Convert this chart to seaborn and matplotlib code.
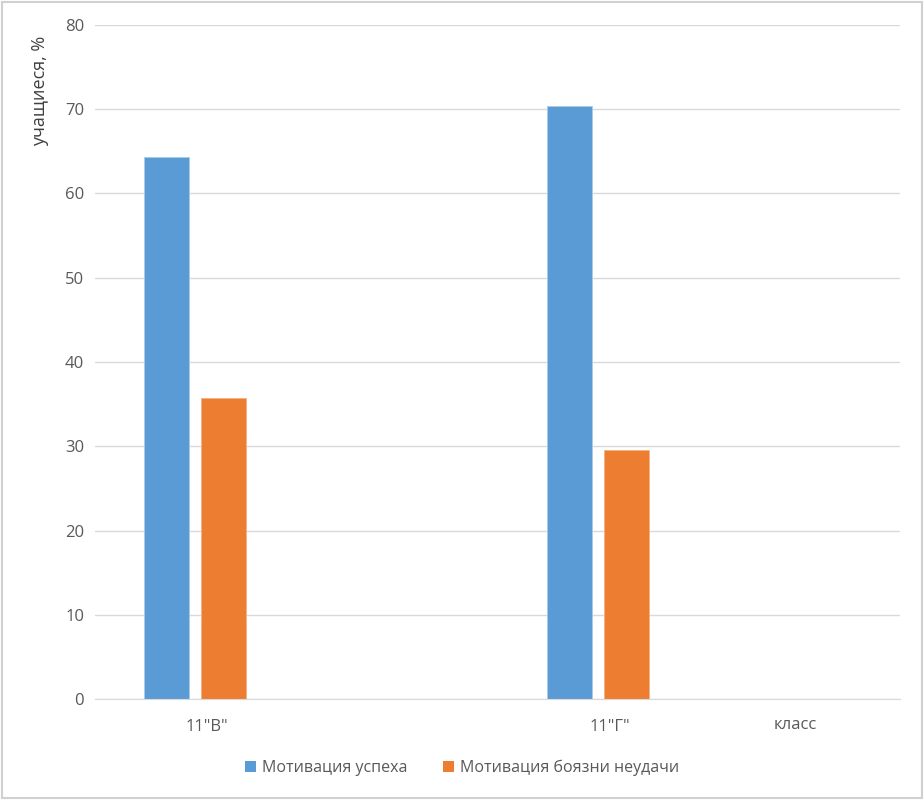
import matplotlib
matplotlib.use('Agg')
import matplotlib.pyplot as plt
from matplotlib.patches import Rectangle
import seaborn as sns
import pandas as pd

sns.set_style('white')
plt.rcParams['font.family'] = ['Open Sans', 'DejaVu Sans']

# data
classes = ['11"В"', '11"Г"']
series = ['Мотивация успеха', 'Мотивация боязни неудачи']
success = [64.3, 70.4]
fear = [35.7, 29.6]
colors = ['#5B9BD5', '#ED7D31']
grey = '#595959'

df = pd.DataFrame({
    'class': classes * 2,
    'series': [series[0]] * 2 + [series[1]] * 2,
    'value': success + fear,
})

fig = plt.figure(figsize=(9.24, 8), dpi=100)
ax = fig.add_axes([0.103, 0.126, 0.871, 0.843])

sns.barplot(data=df, x='class', y='value', hue='series', hue_order=series,
            palette=colors, width=0.283, gap=0.21, ax=ax, legend=True,
            saturation=1, edgecolor='#a9cbea', linewidth=0.6)

ax.set_xlim(-0.248, 1.749)
ax.set_ylim(0, 80)
ax.set_yticks(range(0, 81, 10))
ax.set_xticks([0.03, 1.03], classes)
ax.yaxis.grid(True, color='#d9d9d9', linewidth=1)
ax.set_axisbelow(True)
ax.tick_params(axis='both', length=0, labelsize=12, colors=grey, pad=8)
ax.tick_params(axis='x', pad=14)
ax.set_xlabel('')
ax.set_ylabel('')
for s in ['top', 'right', 'left']:
    ax.spines[s].set_visible(False)
ax.spines['bottom'].set_color('#d9d9d9')

# orange bars get an orange-tinted edge
for p in ax.patches[2:4]:
    p.set_edgecolor('#f4b183')

# axis titles
ax.text(1.489, -0.0265, 'класс', transform=ax.get_xaxis_transform(),
        ha='center', va='top', fontsize=12, color=grey)
fig.text(40 / 924, 1 - 91 / 800, 'учащиеся, %', rotation=90, ha='center',
         va='center', fontsize=13, color='#404040')

leg = ax.legend(loc='center', frameon=False,
                ncol=2, fontsize=11.5, handlelength=0.7, handleheight=0.7,
                handletextpad=0.4, columnspacing=2.2)
leg.set_bbox_to_anchor((0.5, 1 - 768 / 800), transform=fig.transFigure)
for t in leg.get_texts():
    t.set_color(grey)
for h in leg.legend_handles:
    h.set_edgecolor('none')

# chart frame
fig.patches.append(Rectangle((0.002, 0.002), 0.996, 0.996, transform=fig.transFigure,
                             fill=False, edgecolor='#d0d0d0', linewidth=1.5))

plt.savefig('out.png', dpi=100)
